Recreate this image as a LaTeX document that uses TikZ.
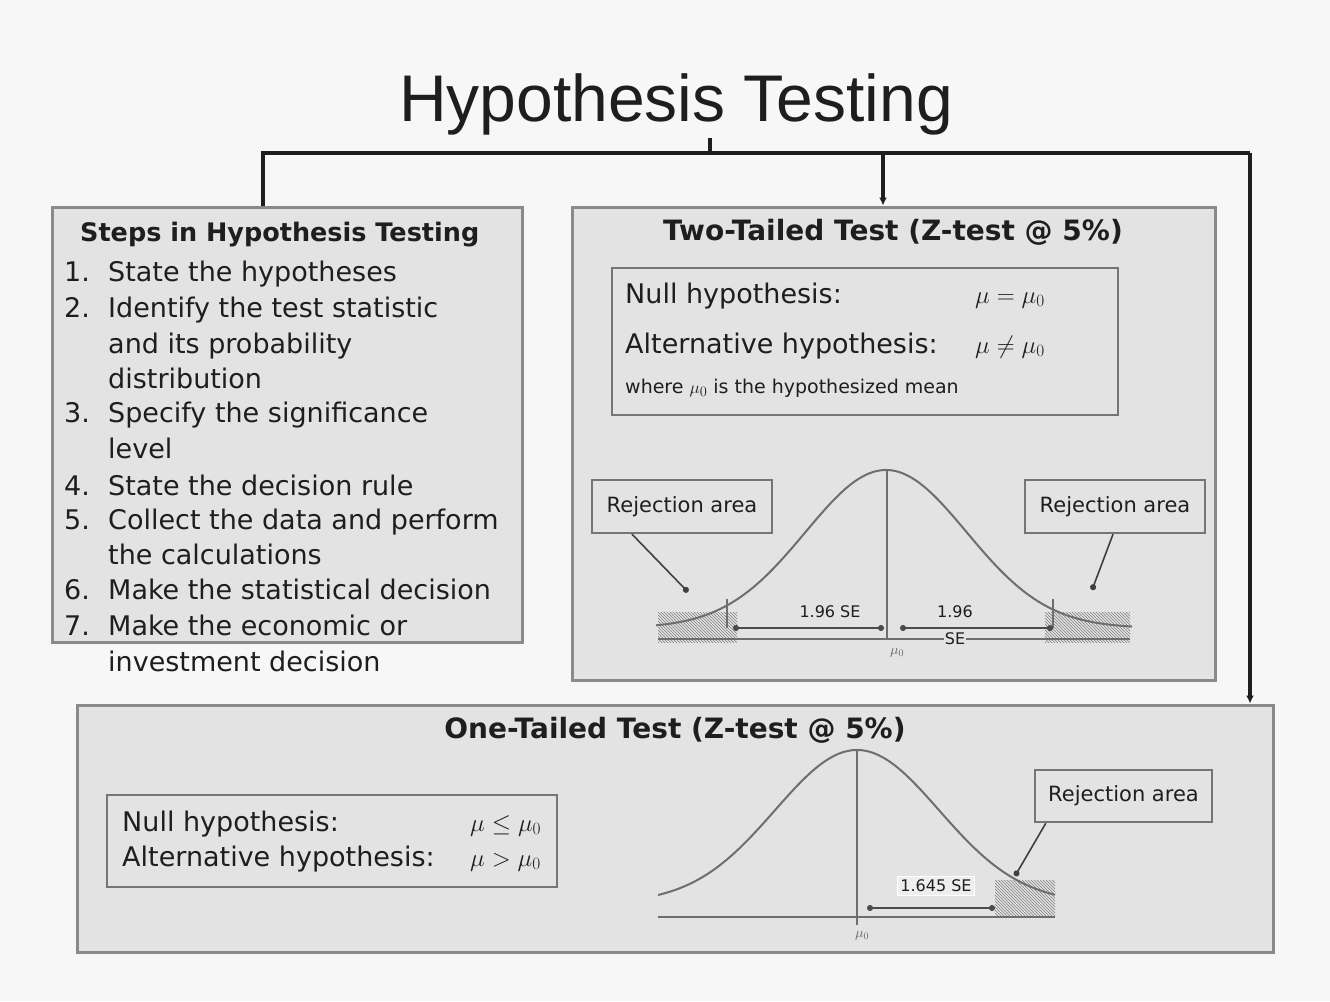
\documentclass[tikz,border=0pt]{standalone}
\usepackage{fontspec}
\setmainfont{DejaVu Sans}
\newfontfamily\titlefont{Liberation Sans}
\usetikzlibrary{arrows.meta,patterns}
\definecolor{bgc}{HTML}{F7F7F7}
\definecolor{boxc}{HTML}{E3E3E3}
\definecolor{edgec}{HTML}{8A8A8A}
\definecolor{inkc}{HTML}{1E1E1E}
\definecolor{curvec}{HTML}{6E6E6E}
\tikzset{
  panel/.style={draw=edgec, fill=boxc, line width=3pt, inner sep=0pt},
  subpanel/.style={draw=edgec!85!black, fill=boxc, line width=2.4pt, inner sep=0pt},
  conn/.style={draw=inkc, line width=3.2pt},
  head/.style={font=\fontsize{28}{32}\selectfont\bfseries, text=inkc, inner sep=0pt},
  stepshead/.style={font=\fontsize{25.5}{30}\selectfont\bfseries, text=inkc, inner sep=0pt},
  body/.style={font=\fontsize{27}{30}\selectfont, text=inkc, inner sep=0pt, anchor=base west},
  hyptext/.style={font=\fontsize{27}{30}\selectfont, text=inkc, inner sep=0pt, anchor=base west},
  smalltext/.style={font=\fontsize{16}{18}\selectfont, text=inkc, inner sep=0pt},
  wheretext/.style={font=\fontsize{19}{21}\selectfont, text=inkc, inner sep=0pt},
  rejtext/.style={font=\fontsize{21}{24}\selectfont, text=inkc},
  curveline/.style={draw=curvec, line width=2pt},
  axisline/.style={draw=curvec, line width=2.2pt},
  dimline/.style={draw=inkc!80, line width=1.6pt, {Circle[length=6pt]}-{Circle[length=6pt]}},
  pointer/.style={draw=inkc!85, line width=1.6pt, -{Circle[length=6pt]}},
  hatch/.style={pattern=north west lines, pattern color=gray},
}
\begin{document}
\begin{tikzpicture}[x=1pt,y=-1pt]
\useasboundingbox (0,0) rectangle (1330,1001);
\fill[bgc] (0,0) rectangle (1330,1001);

% title
\node[font=\titlefont\fontsize{66}{72}\selectfont, text=inkc, inner sep=0pt] (title) at (676,104) {Hypothesis Testing};

% panels
\node[panel, minimum width=470pt, minimum height=435pt] (steps) at (287,424.5) {};
\node[panel, minimum width=643pt, minimum height=473pt] (two) at (893.5,443.5) {};
\node[panel, minimum width=1196pt, minimum height=247pt] (one) at (675,828.5) {};

% connectors
\coordinate (hub) at (710,153);
\coordinate (jL) at (263,153);
\coordinate (jM) at (883,153);
\coordinate (jR) at (1250,153);
\coordinate (tstem) at (710,138);
\draw[conn] (tstem) -- (hub);
\draw[conn] (jL |- steps.north) -- (jL) -- (jR);
\draw[conn, -{Latex[length=8pt,width=8pt]}] (jM) -- (jM |- two.north);
\draw[conn, -{Latex[length=8pt,width=8pt]}] (jR) -- (jR |- one.north);

% steps panel
\node[stepshead, anchor=base west] (stepshead) at (80,241) {Steps in Hypothesis Testing};
\foreach \n/\y in {1./281, 2./317, 3./422, 4./495, 5./529, 6./599, 7./635}{
  \node[body] at (64,\y) {\n};
}
\foreach \y/\t in {
  281/State the hypotheses,
  317/Identify the test statistic,
  353/and its probability,
  388/distribution,
  422/Specify the significance,
  458/level,
  495/State the decision rule,
  529/Collect the data and perform,
  564/the calculations,
  599/Make the statistical decision,
  635/Make the economic or,
  671/investment decision}{
  \node[body] at (108,\y) {\t};
}

% two-tailed panel
\node[head] (twohead) at (893,232) {Two-Tailed Test (Z-test @ 5\%)};
\node[subpanel, minimum width=506pt, minimum height=147pt] (hyp2) at (865,341.5) {};
\node[hyptext] (null2) at (625,303) {Null hypothesis:};
\node[hyptext] (alt2) at (625,353) {Alternative hypothesis:};
\node[hyptext] (nullm2) at (975,303) {$\mu = \mu_0$};
\node[hyptext] (altm2) at (975,353) {$\mu \neq \mu_0$};
\node[wheretext, anchor=base west] (where2) at (625,393) {where $\mu_0$ is the hypothesized mean};

\node[subpanel, minimum width=180pt, minimum height=53pt, rejtext] (rejL) at (682,506.5) {Rejection area};
\node[subpanel, minimum width=180pt, minimum height=53pt, rejtext] (rejR) at (1115,506.5) {Rejection area};

\fill[hatch] (658,612) rectangle (737,642);
\fill[hatch] (1045,612) rectangle (1130,642);
\draw[curveline] plot[domain=656:1132, samples=140] (\x, {628 - 158*exp(-((\x-886)/80.6)^2/2)});
\draw[axisline] (658,639) -- (1130,639);
\draw[axisline] (887,470) -- (887,640);
\draw[axisline] (727,599) -- (727,628);
\draw[axisline] (1053,599) -- (1053,628);
\coordinate (critL) at (733,628);
\coordinate (muL) at (884,628);
\coordinate (muR) at (900,628);
\coordinate (critR) at (1053,628);
\draw[dimline] (critL) -- (muL);
\draw[dimline] (muR) -- (critR);
\node[smalltext, fill=boxc, inner sep=1pt] (se1) at (830,612) {1.96 SE};
\node[smalltext, fill=boxc, inner sep=1pt] (se2a) at (955,612) {1.96};
\node[smalltext, fill=boxc, inner sep=1pt] (se2b) at (955,639) {SE};
\node[font=\fontsize{14}{15}\selectfont, text=inkc!70] (mu2) at (897,653) {$\mu_0$};
\coordinate (tipL) at (688,592);
\coordinate (tipR) at (1092,590);
\draw[pointer] ([xshift=-50pt]rejL.south) -- (tipL);
\draw[pointer] ([xshift=-2pt]rejR.south) -- (tipR);

% one-tailed panel
\node[head] (onehead) at (675,730) {One-Tailed Test (Z-test @ 5\%)};
\node[subpanel, minimum width=450pt, minimum height=92pt] (hyp1) at (332,841) {};
\node[hyptext] (null1) at (122,831) {Null hypothesis:};
\node[hyptext] (alt1) at (122,866) {Alternative hypothesis:};
\node[hyptext] (nullm1) at (470,831) {$\mu \leq \mu_0$};
\node[hyptext] (altm1) at (470,866) {$\mu > \mu_0$};

\node[subpanel, minimum width=177pt, minimum height=52pt, rejtext] (rej1) at (1123.5,796) {Rejection area};
\fill[hatch] (995,880) rectangle (1055,917);
\draw[curveline] plot[domain=658:1055, samples=140] (\x, {903 - 153*exp(-((\x-857)/82)^2/2)});
\draw[axisline] (658,917) -- (1055,917);
\draw[axisline] (857,750) -- (857,925);
\coordinate (crit1) at (995,908);
\coordinate (mu1) at (867,908);
\draw[dimline] (mu1) -- (crit1);
\node[smalltext, fill=boxc!60!white, draw=white, line width=1pt, inner sep=3pt] (se3) at (936,886) {1.645 SE};
\node[font=\fontsize{14}{15}\selectfont, text=inkc!70] (mu1lab) at (862,936) {$\mu_0$};
\coordinate (tip1) at (1015,876);
\draw[pointer] ([xshift=12pt]rej1.south west) -- (tip1);
\end{tikzpicture}
\end{document}
